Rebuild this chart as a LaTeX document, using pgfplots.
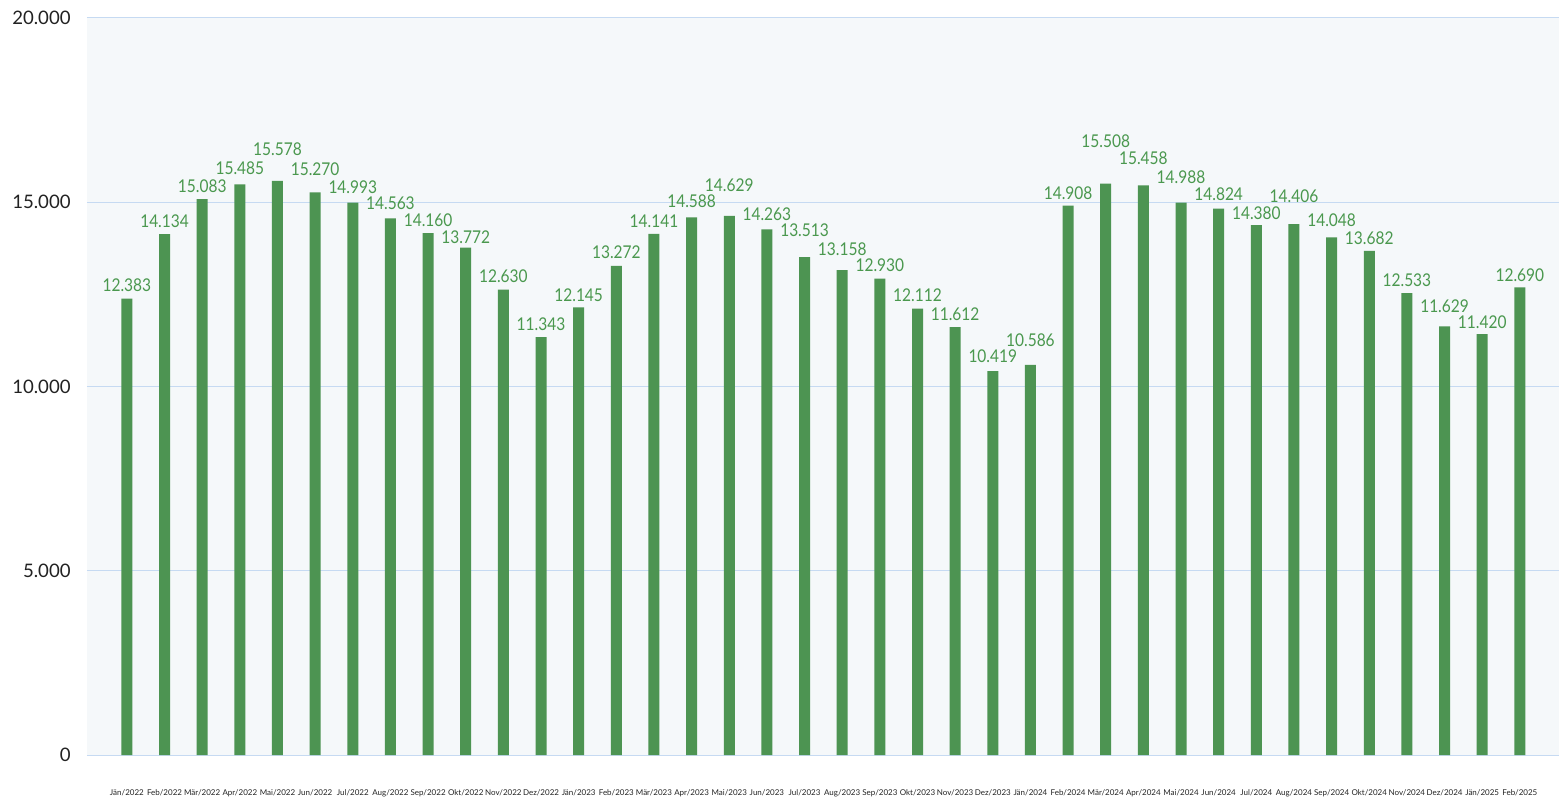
\documentclass[border=0pt]{standalone}
\usepackage{pgfplots}
\pgfplotsset{compat=1.18}
\usepackage{pgfplotstable}
\usepackage{fontspec}
\setmainfont{Lato}
\newfontfamily\labfont[FakeStretch=0.88]{Lato}
\definecolor{barc}{RGB}{77,148,82}
\definecolor{labc}{RGB}{74,152,78}
\definecolor{bgc}{RGB}{245,248,250}
\definecolor{gridc}{RGB}{198,218,242}
\definecolor{tickc}{RGB}{34,34,34}
\pgfplotstableread{
x y lab off
0 12383 12.383 6.8
1 14134 14.134 6.3
2 15083 15.083 6.7
3 15485 15.485 8.3
4 15578 15.578 15.7
5 15270 15.270 11.8
6 14993 14.993 7.9
7 14563 14.563 7.7
8 14160 14.160 6.7
9 13772 13.772 5.3
10 12630 12.630 6.5
11 11343 11.343 6.5
12 12145 12.145 6.1
13 13272 13.272 6.8
14 14141 14.141 6.5
15 14588 14.588 7.9
16 14629 14.629 15.5
17 14263 14.263 7.6
18 13513 13.513 13.2
19 13158 13.158 10.7
20 12930 12.930 6.7
21 12112 12.112 6.7
22 11612 11.612 6.7
23 10419 10.419 7.2
24 10586 10.586 12.2
25 14908 14.908 6.3
26 15508 15.508 21.3
27 15458 15.458 13.5
28 14988 14.988 12.8
29 14824 14.824 7.1
30 14380 14.380 6
31 14406 14.406 13.9
32 14048 14.048 8.5
33 13682 13.682 6.3
34 12533 12.533 6.3
35 11629 11.629 10.1
36 11420 11.420 6
37 12690 12.690 6.2
}\datatable
\begin{document}
\begin{tikzpicture}
\useasboundingbox (-43.5pt,-22pt) rectangle (736pt,377.5pt);
\begin{axis}[
  at={(0,0)}, anchor=south west,
  scale only axis, width=736pt, height=368.5pt,
  xmin=-1.06, xmax=38.04, ymin=0, ymax=20000,
  axis background/.style={fill=bgc},
  axis line style={draw=none},
  ymajorgrids, grid style={gridc, line width=0.5pt},
  major tick length=0pt,
  ytick={0,5000,10000,15000,20000},
  scaled y ticks=false,
  /pgf/number format/.cd, 1000 sep={.}, assume math mode=true, /pgfplots/.cd,
  yticklabel style={font=\fontsize{9.3}{11}\selectfont, text=tickc, anchor=east, inner sep=0pt, xshift=-8pt},
  xtick={0,...,37},
  xticklabels={Jän/2022,Feb/2022,Mär/2022,Apr/2022,Mai/2022,Jun/2022,Jul/2022,Aug/2022,Sep/2022,Okt/2022,Nov/2022,Dez/2022,Jän/2023,Feb/2023,Mär/2023,Apr/2023,Mai/2023,Jun/2023,Jul/2023,Aug/2023,Sep/2023,Okt/2023,Nov/2023,Dez/2023,Jän/2024,Feb/2024,Mär/2024,Apr/2024,Mai/2024,Jun/2024,Jul/2024,Aug/2024,Sep/2024,Okt/2024,Nov/2024,Dez/2024,Jän/2025,Feb/2025},
  xticklabel style={font=\fontsize{4}{5}\selectfont, text=tickc, anchor=center, inner sep=0pt, yshift=-19pt},
]
\addplot[ybar, bar width=5.5pt, fill=barc, draw=none,
  point meta=explicit symbolic,
  nodes near coords={\pgfplotspointmeta},
  visualization depends on={\thisrow{off} \as \off},
  every node near coord/.append style={font=\labfont\fontsize{8.8}{10}\selectfont, text=labc, anchor=center, inner sep=0pt, yshift=\off pt},
] table[x=x, y=y, meta=lab] {\datatable};
\end{axis}
\end{tikzpicture}
\end{document}
